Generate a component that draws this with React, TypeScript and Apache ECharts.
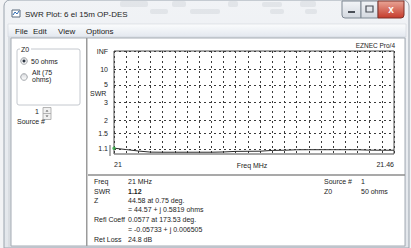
import React, { useEffect, useRef } from 'react';
import * as echarts from 'echarts';

// ---- data ----
const FREQ_MHZ = [21.0, 21.02, 21.04, 21.06, 21.08, 21.1, 21.12, 21.14, 21.16, 21.18, 21.2, 21.22, 21.24, 21.26, 21.28, 21.3, 21.32, 21.34, 21.36, 21.38, 21.4, 21.42, 21.44, 21.46];
const SWR = [1.12, 1.09, 1.06, 1.037, 1.035, 1.035, 1.035, 1.035, 1.035, 1.04, 1.052, 1.054, 1.056, 1.072, 1.076, 1.086, 1.087, 1.087, 1.087, 1.087, 1.086, 1.078, 1.076, 1.076];
const SWR_TICKS = [1.1, 1.5, 2, 3, 5, 10, Infinity];
const SWR_TICK_LABELS = ['1.1', '1.5', '2', '3', '5', '10', 'INF'];
const X_LABEL_VALUES = [21, 21.46];
const X_LABEL_TEXTS = ['21', '21.46'];
const CURSOR_FREQ = 21;
const CURSOR_SWR = 1.12;

const INFO_LABELS = ['Freq', 'SWR', 'Z', '', 'Refl Coeff', '', 'Ret Loss'];
const INFO_VALUES = ['21 MHz', '1.12', '44.58 at 0.75 deg.', '= 44.57 + j 0.5819 ohms', '0.0577 at 173.53 deg.', '= -0.05733 + j 0.006505', '24.8 dB'];
const INFO_RIGHT_LABELS = ['Source #', 'Z0'];
const INFO_RIGHT_VALUES = ['1', '50 ohms'];
const MENU_ITEMS = ['File', 'Edit', 'View', 'Options'];

const rho = (s: number) => (s === Infinity ? 1 : (s - 1) / (s + 1));
const FONT = '"Liberation Sans", Arial, sans-serif';

function txt(text: string, x: number, y: number, size = 7, o: any = {}) {
  const align = o.align || 'left';
  return {
    type: 'text', x, y, z: 20, silent: true,
    style: {
      text, font: `${o.bold ? 'bold ' : ''}${size}px ${FONT}`, fill: o.fill || '#1c1c1c',
      align, textAlign: align, verticalAlign: 'middle', textVerticalAlign: 'middle',
    },
  };
}
function rect(x: number, y: number, w: number, h: number, style: any, z = -10, r: any = 0) {
  return { type: 'rect', z, silent: true, shape: { x, y, width: w, height: h, r }, style };
}
const grad = (a: string, b: string) => new echarts.graphic.LinearGradient(0, 0, 0, 1, [{ offset: 0, color: a }, { offset: 1, color: b }]);

export default function App() {
  const ref = useRef<HTMLDivElement>(null);
  useEffect(() => {
    const chart = echarts.init(ref.current!, undefined, { renderer: 'svg' });

    const blur = [[120, 1, 28, 6], [150, 9, 18, 5], [172, 1, 14, 6], [190, 9, 30, 5], [228, 1, 10, 6], [262, 2, 20, 5], [270, 9, 14, 5], [300, 1, 16, 6], [305, 9, 12, 5]];
    const menuX = [15, 33, 58, 86];
    const rowsY = [181.5, 191, 200, 209.5, 219.5, 229, 239];

    const graphic: any[] = [
      rect(0, 0, 411, 248, { fill: '#f2f3f5' }, -30),
      rect(4, 0, 405, 248, { fill: grad('#f1f3f6', '#e2e6eb'), stroke: '#9aa3ad', lineWidth: 1 }, -29, [6, 6, 0, 0]),
      ...blur.map(([x, y, w, h]) => rect(x, y, w, h, { fill: 'rgba(120,128,140,0.12)' }, -28, 2)),
      rect(8, 24, 398, 13, { fill: grad('#fbfcfd', '#e3e8ef'), stroke: '#c9ced6', lineWidth: 0.5 }, -27),
      rect(8, 37, 398, 210, { fill: '#d9dde2' }, -27),
      rect(11, 38, 394, 208, { fill: '#ffffff', stroke: '#a5acb5', lineWidth: 1 }, -26),
      rect(86, 38, 1.5, 208, { fill: '#9b9b9b' }, -25),
      { type: 'line', z: -25, silent: true, shape: { x1: 88, y1: 175, x2: 405, y2: 175 }, style: { stroke: '#8c8c8c', lineWidth: 1.5 } },
      // title icon
      rect(12, 10, 8, 7, { fill: '#ffffff', stroke: '#5b6b7c', lineWidth: 1 }, -20),
      { type: 'polyline', z: -19, silent: true, shape: { points: [[13, 15], [15, 12], [17, 14], [19, 11]] }, style: { stroke: '#2d6bb3', lineWidth: 1, fill: 'none' } },
      // window buttons
      rect(342, 1, 19, 17, { fill: grad('#f3f5f8', '#d3d8df'), stroke: '#7f8893', lineWidth: 1 }, -20, [0, 0, 0, 3]),
      rect(348, 11, 7, 2, { fill: '#4a4f57' }, -19),
      rect(361, 1, 17, 17, { fill: grad('#f3f5f8', '#d3d8df'), stroke: '#7f8893', lineWidth: 1 }, -20),
      rect(366, 6, 7, 6, { fill: 'none', stroke: '#4a4f57', lineWidth: 1.2 }, -19),
      rect(378, 1, 26, 17, { fill: grad('#e9a596', '#c53b2b'), stroke: '#7e3128', lineWidth: 1 }, -20, [0, 0, 3, 0]),
      txt('x', 391, 9.5, 10, { bold: true, fill: '#ffffff', align: 'center' }),
      txt('SWR Plot: 6 el 15m OP-DES', 25, 14.5, 8),
      ...MENU_ITEMS.map((m, i) => txt(m, menuX[i], 31, 8)),
      // left panel
      rect(17, 49, 63, 56, { fill: 'none', stroke: '#c4c8ce', lineWidth: 1 }, -20, 2),
      rect(20, 45, 11, 8, { fill: '#ffffff' }, -19),
      txt('Z0', 21, 49, 7),
      { type: 'circle', z: -18, silent: true, shape: { cx: 24, cy: 61, r: 3.3 }, style: { fill: grad('#d8dadd', '#ffffff'), stroke: '#8a8f96', lineWidth: 0.8 } },
      { type: 'circle', z: -17, silent: true, shape: { cx: 24, cy: 61, r: 1.5 }, style: { fill: '#2b3440' } },
      txt('50 ohms', 31, 61, 7),
      { type: 'circle', z: -18, silent: true, shape: { cx: 24, cy: 77, r: 3.3 }, style: { fill: grad('#d8dadd', '#ffffff'), stroke: '#8a8f96', lineWidth: 0.8 } },
      txt('Alt (75', 32, 72.5, 7),
      txt('ohms)', 32, 79.5, 7),
      txt('1', 35, 111, 7),
      rect(43, 107.5, 8, 12, { fill: '#f0f0f0', stroke: '#a3a3a3', lineWidth: 0.8 }, -18),
      { type: 'line', z: -17, silent: true, shape: { x1: 43, y1: 113.5, x2: 51, y2: 113.5 }, style: { stroke: '#a3a3a3', lineWidth: 0.8 } },
      { type: 'polygon', z: -17, silent: true, shape: { points: [[45.5, 111.5], [48.5, 111.5], [47, 110]] }, style: { fill: '#555' } },
      { type: 'polygon', z: -17, silent: true, shape: { points: [[45.5, 115.5], [48.5, 115.5], [47, 117]] }, style: { fill: '#555' } },
      txt('Source #', 17, 121, 7),
      // plot extras
      txt('EZNEC Pro/4', 395, 45, 6.5, { align: 'right' }),
      txt('SWR', 90, 93, 7),
      txt('Freq MHz', 252, 165, 7, { align: 'center' }),
      { type: 'line', z: 5, silent: true, shape: { x1: 110, y1: 145, x2: 110, y2: 156 }, style: { stroke: '#333', lineWidth: 0.8 } },
      // info panel
      ...INFO_LABELS.map((l, i) => txt(l, 94, rowsY[i], 7)),
      ...INFO_VALUES.map((v, i) => txt(v, 128, rowsY[i], 7, { bold: i === 1 })),
      ...INFO_RIGHT_LABELS.map((l, i) => txt(l, 324, rowsY[i], 7)),
      ...INFO_RIGHT_VALUES.map((v, i) => txt(v, 361, rowsY[i], 7)),
    ];

    const option: any = {
      animation: false,
      textStyle: { fontFamily: FONT },
      graphic,
      grid: { left: 114, top: 51, right: 17, bottom: 94, show: true, borderColor: '#4d4d4d', borderWidth: 1, backgroundColor: 'transparent', containLabel: false },
      xAxis: {
        type: 'value', min: 21, max: 21.46, interval: 0.02,
        axisLine: { show: false }, axisTick: { show: false },
        axisLabel: {
          fontSize: 7, color: '#1c1c1c', margin: 7, showMinLabel: true, showMaxLabel: true,
          alignMinLabel: 'left', alignMaxLabel: 'right',
          formatter: (v: number) => {
            const i = X_LABEL_VALUES.findIndex((x) => Math.abs(x - v) < 1e-6);
            return i >= 0 ? X_LABEL_TEXTS[i] : '';
          },
        },
        splitLine: { show: true, lineStyle: { color: '#3a3a3a', type: [2, 3], width: 1 } },
      },
      yAxis: {
        type: 'value', min: 0, max: 1,
        axisLine: { show: false }, axisTick: { show: false }, axisLabel: { show: false }, splitLine: { show: false },
      },
      series: [
        {
          type: 'line', data: FREQ_MHZ.map((f, i) => [f, rho(SWR[i])]), symbol: 'none',
          lineStyle: { color: '#2a2a2a', width: 1 }, z: 4,
          markLine: {
            silent: true, symbol: ['none', 'none'], animation: false,
            lineStyle: { color: '#3a3a3a', type: [2, 3], width: 1 },
            label: { position: 'start', distance: 6, fontSize: 7, color: '#1c1c1c' },
            emphasis: { disabled: true },
            data: SWR_TICKS.map((s, i) => ({ yAxis: rho(s), label: { formatter: SWR_TICK_LABELS[i] } })),
          },
        },
        {
          type: 'scatter', data: [[CURSOR_FREQ, rho(CURSOR_SWR)]], symbol: 'circle', symbolSize: 3.5,
          itemStyle: { color: '#35b34a' }, z: 6,
        },
      ],
    };
    chart.setOption(option);
    return () => chart.dispose();
  }, []);
  return <div ref={ref} style={{ position: 'absolute', left: 0, top: 0, width: 411, height: 248 }} />;
}
